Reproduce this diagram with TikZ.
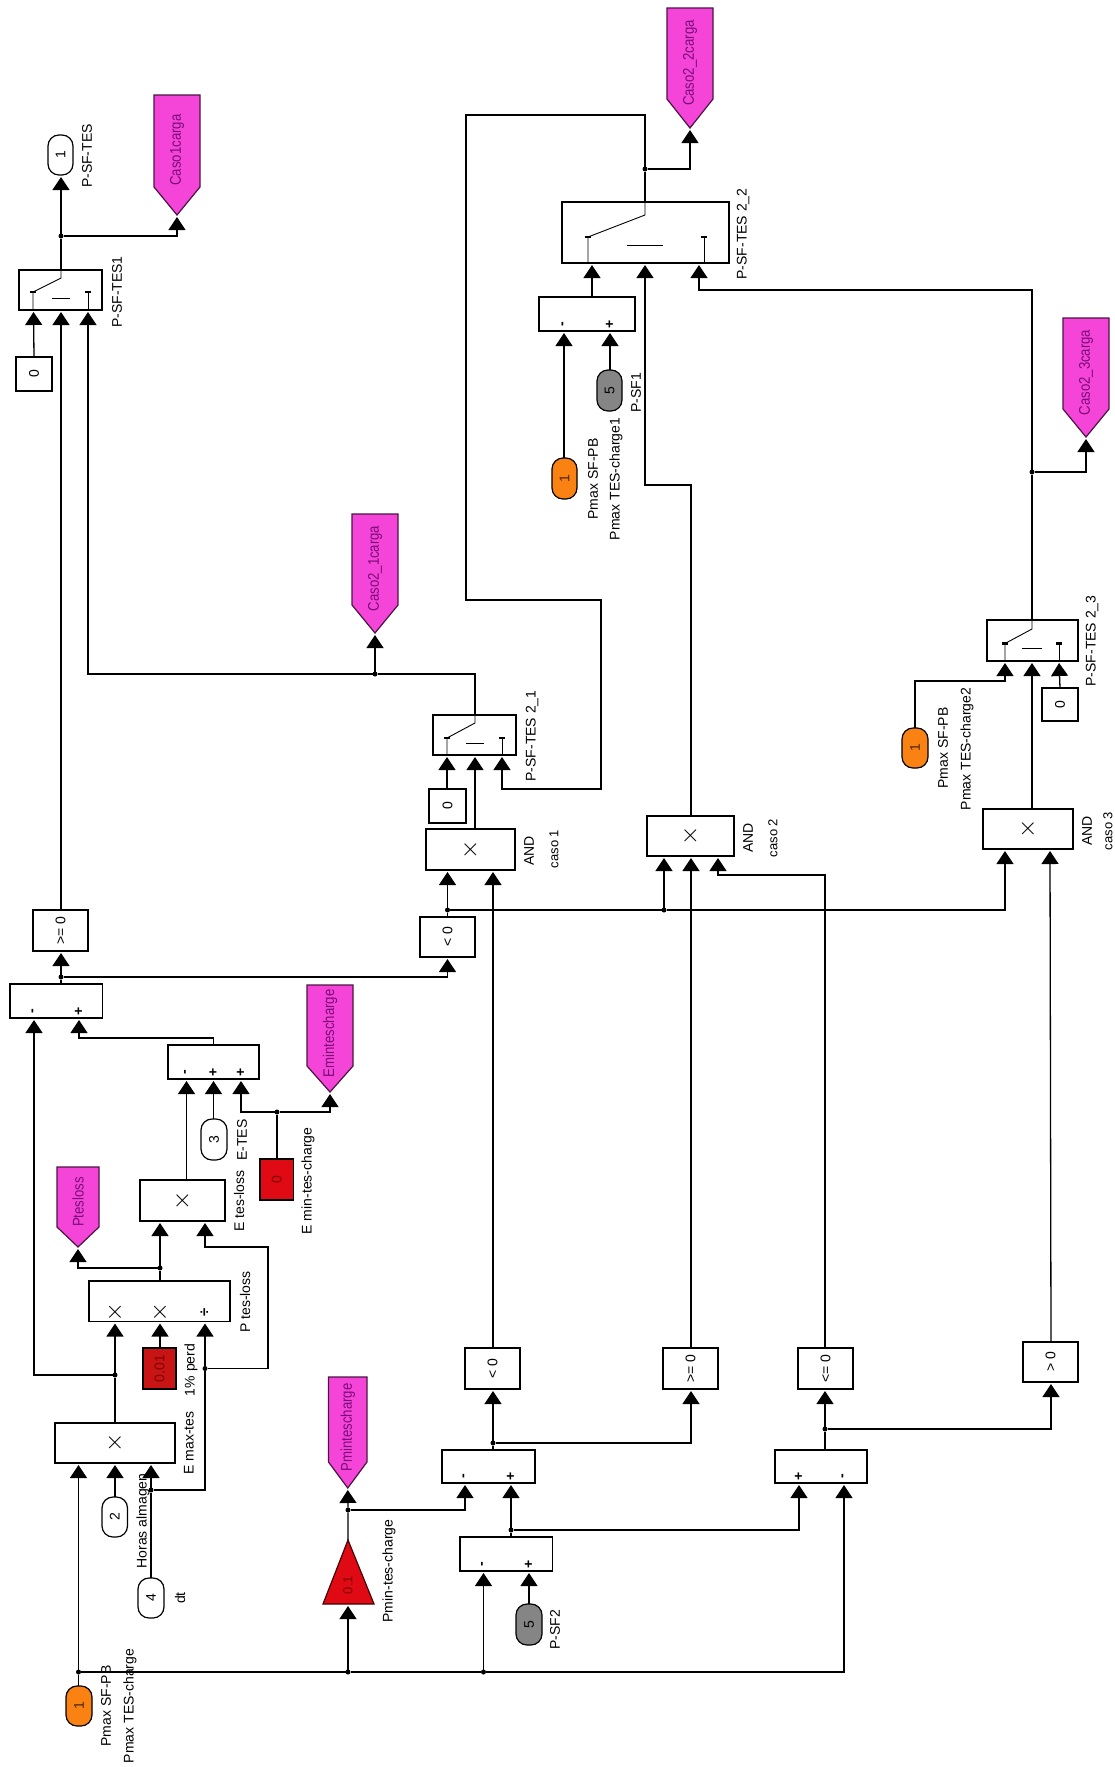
\documentclass[tikz,border=0pt]{standalone}
\usepackage{fontspec}
\usepackage{graphicx}
\setmainfont{Liberation Sans}
\newfontfamily\narrowfont[FakeStretch=0.85]{Liberation Sans}
\usetikzlibrary{arrows.meta}
\definecolor{gotofill}{HTML}{F545D8}
\definecolor{gototext}{HTML}{7A0A7A}
\definecolor{redfill}{HTML}{E00A14}
\definecolor{darkred}{HTML}{C81414}
\definecolor{orangefill}{HTML}{FA8212}
\definecolor{greyfill}{HTML}{858585}
\newcommand\fs[1]{\fontsize{#1}{#1}\selectfont}
\tikzset{
  box/.style={draw=black,line width=1.2pt,fill=white,inner sep=0pt,outer sep=0pt,font=\fs{14}},
  port/.style={box,rounded corners=11pt},
  orangeport/.style={port,fill=orangefill,text=black!70!orangefill},
  greyport/.style={port,fill=greyfill},
  redbox/.style={box,fill=redfill,text=red!50!black},
  darkredbox/.style={box,fill=darkred,text=red!50!black},
  wire/.style={draw=black,line width=1.3pt},
  arr/.style={wire,-{Triangle[width=17pt,length=13pt]},shorten >=2pt},
  dot/.style={circle,fill=black,inner sep=0pt,minimum size=5pt,outer sep=0pt},
  lbl/.style={rotate=90,inner sep=0pt,font=\fs{14}},
  small/.style={rotate=90,inner sep=0pt,font=\fs{13}},
  gotoshape/.style={draw=black!70!gotofill,line width=1.2pt,fill=gotofill},
  gotolbl/.style={rotate=90,inner sep=0pt,font=\narrowfont\fs{15.5},text=gototext},
  signlbl/.style={rotate=90,inner sep=0pt,font=\bfseries\fs{14}},
  crosslbl/.style={inner sep=0pt,font=\fs{24}},
  thinline/.style={draw=black,line width=0.9pt},
}
\newcommand\crossf{\fs{24}$\times$}
% optional style, name, xl, xr, yt, yb, output x, input xs, content
\newcommand\blk[9][box]{%
  \pgfmathsetmacro\blkw{#4-#3}\pgfmathsetmacro\blkh{#6-#5}%
  \pgfmathsetmacro\blkx{(#3+#4)/2}\pgfmathsetmacro\blky{(#5+#6)/2}%
  \node[#1,minimum width=\blkw pt,minimum height=\blkh pt] (#2) at (\blkx,\blky) {\rotatebox{90}{#9}};
  \coordinate (#2-o) at (#7,#5);
  \foreach \px [count=\ii] in {#8} {\coordinate (#2-\ii) at (\px,#6);}
}
% name, xl, xr, top, shoulder, tip, text
\newcommand\gotoblk[7]{%
  \pgfmathsetmacro\blkx{(#2+#3)/2}\pgfmathsetmacro\blky{(#4+#6)/2-5}%
  \draw[gotoshape] (#2,#4) -- (#3,#4) -- (#3,#5) -- (\blkx,#6) -- (#2,#5) -- cycle;
  \node[gotolbl] (#1) at (\blkx,\blky) {#7};
  \coordinate (#1-in) at (\blkx,#6);
}
% x1,x2,x3, yb, ycontact, ydiag, ytop, ybar, barhalf
\newcommand\switchmark[9]{%
  \draw[thinline] (#1,#4) -- (#1,#5) -- (#2,#6) -- (#2,#7);
  \draw[thinline] (#3,#4) -- (#3,#5);
  \draw[thinline] (#2-#9,#8) -- (#2+#9,#8);
  \draw[thinline,fill=black] (#1-2.5,#5-0.8) rectangle (#1+2.5,#5+0.8);
  \draw[thinline,fill=black] (#3-2.5,#5-0.8) rectangle (#3+2.5,#5+0.8);
}
\begin{document}
\begin{tikzpicture}[x=1pt,y=-1pt]
\useasboundingbox (0,0) rectangle (1115,1767);
\fill[white] (0,0) rectangle (1115,1767);

% blocks
\blk{swOne}{19}{102}{270}{310}{61}{33.5,61,88}{}
\blk[port]{outOne}{48}{73}{135}{175}{61}{61}{1}
\blk{cZeroOne}{16}{52}{357}{391}{34}{34}{0}
\blk{geA}{33}{88}{910}{951}{61}{61}{>= 0}
\blk{sumA}{10}{102.5}{984}{1018}{61}{34,79}{}
\blk{ltB}{420}{475}{917}{957}{447.5}{447.5}{< 0}
\blk{andA}{426}{515}{829}{870}{475}{447.5,493}{\crossf}
\blk{sumE}{168}{259}{1045}{1079}{213.5}{186.5,213.5,241}{}
\blk[redbox]{eMin}{260}{293.5}{1159}{1200}{277}{277}{0}
\blk[port]{inThree}{201}{227}{1119}{1160}{213.5}{213.5}{3}
\blk{prodE}{140}{225}{1180}{1221}{186.5}{160,205}{\crossf}
\blk{prodP}{89}{230}{1281}{1321.5}{160}{115,160,205}{}
\blk[darkredbox]{perd}{143}{176}{1348}{1389}{160}{160}{0.01}
\blk{prodMax}{55}{175}{1423}{1463}{115}{78.5,115,151}{\crossf}
\blk[port]{inTwo}{102}{127.5}{1497}{1537}{115}{115}{2}
\blk[port]{inFour}{138}{164}{1578}{1618}{151}{151}{4}
\blk[orangeport]{inOneA}{66}{92}{1686}{1726}{78.5}{78.5}{1}
\blk{sumC}{442}{535}{1450}{1483}{493}{465,511}{}
\blk{ltA}{465}{520}{1348}{1389}{493}{493}{< 0}
\blk{sumD}{460}{552.5}{1537}{1571}{511}{483.5,529}{}
\blk[greyport]{inFiveA}{516}{542}{1604}{1645}{529}{529}{5}
\blk{geB}{663}{718}{1348}{1389}{691}{691}{>= 0}
\blk{leB}{798}{853}{1348}{1389}{825}{825}{<= 0}
\blk{gtC}{1023}{1078}{1342}{1382}{1051}{1051}{> 0}
\blk{sumF}{775}{867}{1450}{1483}{825}{799,844}{}
\blk{swA}{433}{516}{715}{755}{475}{447,475,502}{}
\blk{cZeroA}{429}{466}{789}{823}{447}{447}{0}
\blk{andB}{647}{734}{816}{856}{691}{664,691,718}{\crossf}
\blk{swB}{562}{729}{202}{263}{645}{592,645,699}{}
\blk{sumB}{539}{635}{297}{331}{592}{564,610}{}
\blk[greyport]{inFiveB}{597}{622}{370}{411}{610}{610}{5}
\blk[orangeport]{inOneB}{552}{577}{458}{499}{564}{564}{1}
\blk{swC}{987}{1078}{620}{661}{1032}{1005,1032,1059}{}
\blk{cZeroC}{1042}{1078}{688}{721}{1060}{1060}{0}
\blk[orangeport]{inOneC}{902}{928}{728}{768}{915}{915}{1}
\blk{andC}{983}{1073}{809}{849}{1032}{1005,1050}{\crossf}

% gain triangle
\draw[draw=black!70!redfill,line width=1.2pt,fill=redfill] (323,1604) -- (348,1540) -- (374,1604) -- cycle;
\node[small,text=red!50!black] (gainP) at (348,1585) {0.1};
\coordinate (gainP-in) at (348,1604);
\coordinate (gainP-o) at (348,1540);

% goto tags
\gotoblk{gCasoOne}{154}{200}{95}{187}{215}{Caso1carga}
\gotoblk{gCasoTwoOne}{352}{398}{514}{605}{633}{Caso2\_1carga}
\gotoblk{gCasoTwoTwo}{667}{713}{8}{99}{128}{Caso2\_2carga}
\gotoblk{gCasoTwoThree}{1063}{1109}{318}{409}{437}{Caso2\_3carga}
\gotoblk{gEmin}{307}{353}{985}{1066}{1092}{Emintescharge}
\gotoblk{gPtes}{57}{99}{1167}{1227}{1247}{Ptesloss}
\gotoblk{gPmin}{328.5}{367}{1377}{1462}{1488}{Pmintescharge}

% switch marks
\switchmark{33}{61}{88}{310}{292}{278}{270}{298}{9}
\switchmark{447}{475}{502}{755}{738}{723}{715}{743}{9}
\switchmark{588}{645}{704}{263}{237}{215}{202}{245}{18}
\switchmark{1005}{1032}{1059}{661}{643.5}{629}{620}{648}{10}

% junctions
\node[dot] (jBus) at (78.5,1672) {};
\node[dot] (jGain) at (348,1672) {};
\node[dot] (jSumD) at (483.5,1672) {};
\node[dot] (jFour) at (151,1490) {};
\node[dot] (jDiv) at (205,1368.5) {};
\node[dot] (jMax) at (115,1375) {};
\node[dot] (jP) at (160,1268) {};
\node[dot] (jEmin) at (277,1112) {};
\node[dot] (jSumA) at (61,977) {};
\node[dot] (jLt) at (447.5,910) {};
\node[dot] (jAndB) at (664,910) {};
\node[dot] (jSumC) at (493,1443) {};
\node[dot] (jSumD2) at (511,1530) {};
\node[dot] (jPmin) at (348,1510) {};
\node[dot] (jSumF) at (825,1429) {};
\node[dot] (jSwA) at (375,674) {};
\node[dot] (jSwOne) at (61,236) {};
\node[dot] (jSwB) at (645,169) {};
\node[dot] (jSwC) at (1032,472) {};

% connectors
\draw[wire] (inOneA-o) -- (jBus);
\draw[arr] (jBus) -- (prodMax-1);
\draw[arr] (jBus) -- (jGain) -- (jSumD) -| (sumF-2);
\draw[arr] (jGain) -- (gainP-in);
\draw[arr] (jSumD) -- (sumD-1);
\draw[arr] (inTwo-o) -- (prodMax-2);
\draw[wire] (inFour-o) -- (jFour);
\draw[arr] (jFour) -- (prodMax-3);
\draw[wire] (jFour) -| (jDiv);
\draw[arr] (jDiv) -- (prodP-3);
\draw[arr] (jDiv) -- ++(63,0) |- ++(-63,-121.5) -- (prodE-2);
\draw[arr] (prodMax-o) -- (jMax) -- (prodP-1);
\draw[arr] (jMax) -| (sumA-1);
\draw[arr] (perd-o) -- (prodP-2);
\draw[arr] (prodP-o) -- (jP) -- (prodE-1);
\draw[arr] (jP) -| (gPtes-in);
\draw[arr] (prodE-o) -- (sumE-1);
\draw[arr] (inThree-o) -- (sumE-2);
\draw[wire] (eMin-o) -- (jEmin);
\draw[arr] (jEmin) -| (sumE-3);
\draw[arr] (jEmin) -| (gEmin-in);
\draw[arr] (sumE-o) -- ++(0,-7) -| (sumA-2);
\draw[arr] (sumA-o) -- (jSumA) -- (geA-1);
\draw[arr] (jSumA) -| (ltB-1);
\draw[arr] (geA-o) -- (swOne-2);
\draw[arr] (ltB-o) -- (jLt) -- (andA-1);
\draw[arr] (jLt) -- (jAndB) -- ++(341,0) -- (andC-1);
\draw[arr] (jAndB) -- (andB-1);
\draw[arr] (ltA-o) -- (andA-2);
\draw[arr] (geB-o) -- (andB-2);
\draw[arr] (leB-o) |- (718,875) -- (andB-3);
\draw[arr] (gtC-o) -- (andC-2);
\draw[arr] (sumC-o) -- (jSumC) -- (ltA-1);
\draw[arr] (jSumC) -| (geB-1);
\draw[arr] (sumD-o) -- (jSumD2) -- (sumC-2);
\draw[arr] (jSumD2) -| (sumF-1);
\draw[arr] (gainP-o) -- (jPmin) -- (gPmin-in);
\draw[arr] (jPmin) -| (sumC-1);
\draw[arr] (inFiveA-o) -- (sumD-2);
\draw[arr] (sumF-o) -- (jSumF) -- (leB-1);
\draw[arr] (jSumF) -| (gtC-1);
\draw[arr] (andA-o) -- (swA-2);
\draw[arr] (cZeroA-o) -- (swA-1);
\draw[wire] (swA-o) |- (jSwA);
\draw[arr] (jSwA) -- (88,674) -- (swOne-3);
\draw[arr] (jSwA) -- (gCasoTwoOne-in);
\draw[arr] (cZeroOne-o) -- (swOne-1);
\draw[arr] (swOne-o) -- (jSwOne) -- (outOne-1);
\draw[arr] (jSwOne) -| (gCasoOne-in);
\draw[wire] (swB-o) -- (jSwB);
\draw[arr] (jSwB) -- (645,115) -- (466,115) -- (466,600) -- (601,600) -- (601,789) -| (swA-3);
\draw[arr] (jSwB) -| (gCasoTwoTwo-in);
\draw[arr] (sumB-o) -- (swB-1);
\draw[arr] (inOneB-o) -- (sumB-1);
\draw[arr] (inFiveB-o) -- (sumB-2);
\draw[arr] (andB-o) -- (691,485) -| (swB-2);
\draw[arr] (swC-o) -- (jSwC) -- (1032,290) -| (swB-3);
\draw[arr] (jSwC) -| (gCasoTwoThree-in);
\draw[arr] (andC-o) -- (swC-2);
\draw[arr] (inOneC-o) |- (1005,681) -- (swC-1);
\draw[arr] (cZeroC-o) -- (swC-3);

% sign marks
\node[signlbl] (sA1) at (34,1011) {-};
\node[signlbl] (sA2) at (79,1011) {+};
\node[signlbl] (sE1) at (186.5,1072) {-};
\node[signlbl] (sE2) at (213.5,1072) {+};
\node[signlbl] (sE3) at (241,1072) {+};
\node[signlbl] (sC1) at (465,1476) {-};
\node[signlbl] (sC2) at (511,1476) {+};
\node[signlbl] (sD1) at (483.5,1564) {-};
\node[signlbl] (sD2) at (529,1564) {+};
\node[signlbl] (sF1) at (799,1476) {+};
\node[signlbl] (sF2) at (844,1476) {-};
\node[signlbl] (sB1) at (564,324) {-};
\node[signlbl] (sB2) at (610,324) {+};
\node[crosslbl] (pP1) at (115,1312) {$\times$};
\node[crosslbl] (pP2) at (160,1312) {$\times$};
\node[signlbl,font=\bfseries\fs{15}] (pP3) at (205,1312) {÷};

% labels
\node[lbl] (tOut) at (87,156) {P-SF-TES};
\node[lbl] (tSwOne) at (117,292) {P-SF-TES1};
\node[lbl] (tSwA) at (532,736) {P-SF-TES 2\_1};
\node[lbl] (tAndA) at (529,851) {AND};
\node[small] (tCasoA) at (554,849) {caso 1};
\node[lbl] (tAndB) at (748,838) {AND};
\node[small] (tCasoB) at (773,838) {caso 2};
\node[lbl] (tAndC) at (1087,831) {AND};
\node[small] (tCasoC) at (1108,831) {caso 3};
\node[lbl] (tSwB) at (743,234) {P-SF-TES 2\_2};
\node[lbl] (tSwC) at (1092,641) {P-SF-TES 2\_3};
\node[lbl] (tFiveB) at (636,393) {P-SF1};
\node[lbl] (tOneB1) at (593,479) {Pmax SF-PB};
\node[lbl] (tOneB2) at (616,479) {Pmax TES-charge1};
\node[lbl] (tOneC1) at (943,748) {Pmax SF-PB};
\node[lbl] (tOneC2) at (967,749) {Pmax TES-charge2};
\node[lbl] (tETES) at (242,1140) {E-TES};
\node[lbl] (tEtes) at (239,1201) {E tes-loss};
\node[lbl] (tEmin) at (308,1181) {E min-tes-charge};
\node[lbl] (tPtes) at (245,1302) {P tes-loss};
\node[lbl] (tPerd) at (191,1370) {1\% perd};
\node[lbl] (tEmax) at (189,1443) {E max-tes};
\node[lbl] (tHoras) at (143,1521) {Horas almagen};
\node[lbl] (tDt) at (180,1598) {dt};
\node[lbl] (tPminT) at (389,1571) {Pmin-tes-charge};
\node[lbl] (tFiveA) at (555,1630) {P-SF2};
\node[lbl] (tOneA1) at (106,1706) {Pmax SF-PB};
\node[lbl] (tOneA2) at (130,1706) {Pmax TES-charge};
\end{tikzpicture}
\end{document}
